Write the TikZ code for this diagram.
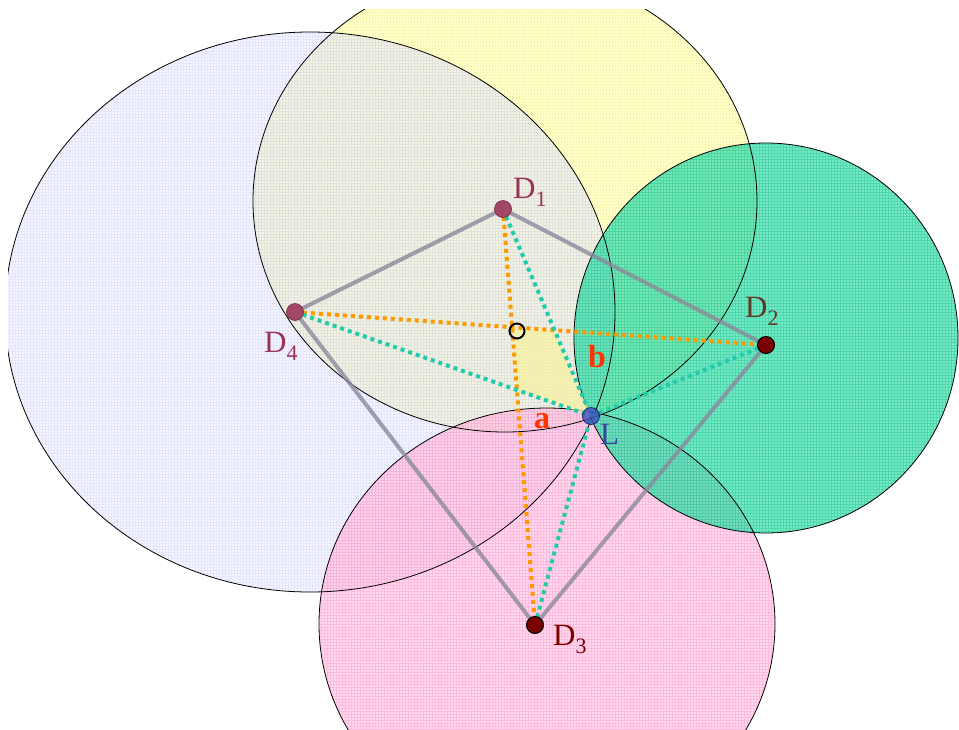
\documentclass[tikz,border=0pt]{standalone}
\usepackage{fontspec}
\setmainfont{Liberation Serif}
\definecolor{yelfill}{HTML}{FFFFC8}
\definecolor{yelgrid}{HTML}{EEEE80}
\definecolor{blufill}{HTML}{E8E8FF}
\definecolor{blugrid}{HTML}{B8B8F4}
\definecolor{grnfill}{HTML}{3EDEAE}
\definecolor{grngrid}{HTML}{10C088}
\definecolor{pnkfill}{HTML}{FFC4E2}
\definecolor{pnkgrid}{HTML}{FF88C4}
\definecolor{quadcol}{HTML}{F8F2A0}
\definecolor{edgecol}{HTML}{8A8A9C}
\definecolor{orangecol}{HTML}{FF9900}
\definecolor{tealcol}{HTML}{22CCAA}
\definecolor{mauve}{HTML}{993355}
\definecolor{darkred}{HTML}{7A0000}
\definecolor{brownlab}{HTML}{5C3A28}
\definecolor{lblue}{HTML}{4050C0}
\definecolor{labred}{HTML}{FF3300}
\newcommand{\dsub}[1]{\raisebox{-8pt}{\fontsize{22}{22}\selectfont #1}}
% #1 centre, #2 x radius, #3 y radius, #4 fill colour, #5 fill opacity, #6 grid colour, #7 grid opacity
\newcommand{\zonefill}[7]{%
  \begin{scope}
    \clip #1 ellipse [x radius=#2, y radius=#3];
    \fill[#4, fill opacity=#5] #1 ellipse [x radius=#2, y radius=#3];
    \draw[#6, line width=0.35pt, draw opacity=#7, xstep=3pt, ystep=3pt] (0,0) grid (960,730);
  \end{scope}}
\tikzset{
  outline/.style={draw=black, line width=0.8pt},
  quadedge/.style={draw=edgecol, line width=4pt, opacity=0.8},
  orangedot/.style={draw=orangecol, line width=4pt, dash pattern=on 4pt off 4pt},
  tealdot/.style={draw=tealcol, line width=4pt, dash pattern=on 4pt off 4pt},
  softdot/.style={circle, inner sep=0pt, minimum size=17pt, fill=mauve!90!white, draw=mauve!70!black, line width=0.6pt},
  harddot/.style={circle, inner sep=0pt, minimum size=17pt, fill=darkred, draw=black, line width=1pt},
  ldot/.style={circle, inner sep=0pt, minimum size=17pt, fill=lblue, fill opacity=0.8, draw=lblue!50!black, line width=0.8pt},
  dlab/.style={anchor=base west, inner sep=0pt, font=\fontsize{31}{36}\selectfont},
  ablab/.style={anchor=base west, inner sep=0pt, text=labred, font=\fontsize{32}{36}\selectfont\bfseries}
}
\begin{document}
\begin{tikzpicture}[x=1pt,y=-1pt]
\useasboundingbox (0,0) rectangle (959,729);
\coordinate (D1) at (503,209);
\coordinate (D2) at (766,345);
\coordinate (D3) at (535,625);
\coordinate (D4) at (295,312);
\coordinate (L) at (591,416);
\begin{scope}
\clip (8,9) rectangle (959,729);
\zonefill{(505,201)}{252pt}{231pt}{yelfill}{0.85}{yelgrid}{0.35}
\zonefill{(310,312)}{305pt}{280pt}{blufill}{0.45}{blugrid}{0.25}
\zonefill{(547,624)}{228pt}{216pt}{pnkfill}{0.65}{pnkgrid}{0.35}
\zonefill{(766,338)}{192pt}{195pt}{grnfill}{0.7}{grngrid}{0.4}
% outlines
\draw[outline] (505,201) ellipse [x radius=252pt, y radius=231pt];
\draw[outline] (310,312) ellipse [x radius=305pt, y radius=280pt];
\draw[outline] (547,624) ellipse [x radius=228pt, y radius=216pt];
\draw[outline] (766,338) ellipse [x radius=192pt, y radius=195pt];
\end{scope}
% yellow quadrilateral
\fill[quadcol, fill opacity=0.75]
  (intersection of D1--D3 and D4--D2) --
  (intersection of D4--D2 and D1--L) --
  (L) --
  (intersection of D4--L and D1--D3) -- cycle;
% quadrilateral edges
\draw[quadedge] (D1) -- (D2);
\draw[quadedge] (D2) -- (D3);
\draw[quadedge] (D3) -- (D4);
\draw[quadedge] (D4) -- (D1);
% dotted lines
\draw[orangedot] (D1) -- (D3);
\draw[orangedot] (D4) -- (D2);
\draw[tealdot] (D1) -- (L);
\draw[tealdot] (D2) -- (L);
\draw[tealdot] (D3) -- (L);
\draw[tealdot] (D4) -- (L);
% dots
\node[softdot] (p1) at (D1) {};
\node[softdot] (p4) at (D4) {};
\node[harddot] (p3) at (D3) {};
\node[harddot] (p2) at (D2) {};
\node[ldot] (pL) at (L) {};
% centre mark
\node[circle, draw=black, line width=2pt, minimum size=15pt, inner sep=0pt] (ctr) at (517,331) {};
% labels
\node[dlab, text=mauve] (lD1) at (513,198) {D\dsub{1}};
\node[dlab, text=brownlab] (lD2) at (745,317) {D\dsub{2}};
\node[dlab, text=darkred] (lD3) at (553,645) {D\dsub{3}};
\node[dlab, text=mauve] (lD4) at (264,352) {D\dsub{4}};
\node[dlab, text=lblue!85!black] (lL) at (600,444) {L};
\node[ablab] (la) at (534,428) {a};
\node[ablab] (lb) at (588,367) {b};
\end{tikzpicture}
\end{document}
